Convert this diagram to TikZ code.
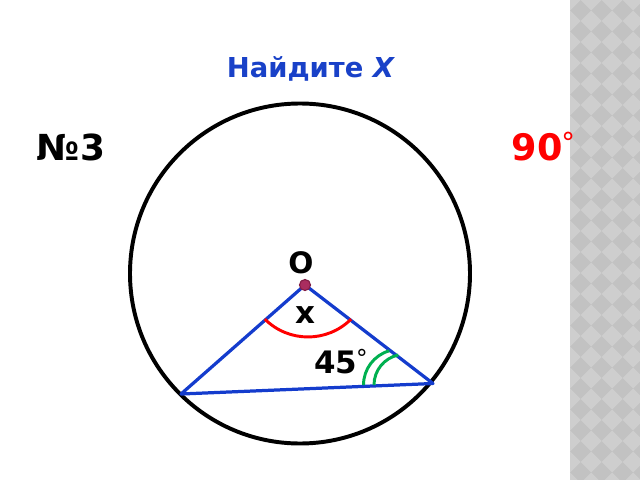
\documentclass[tikz,border=0pt]{standalone}
\usepackage{fontspec}
\setmainfont{DejaVu Sans}

\definecolor{titleblue}{RGB}{25,65,200}
\definecolor{sideblue}{RGB}{20,60,205}
\definecolor{arcgreen}{RGB}{0,176,80}
\definecolor{dotfill}{RGB}{170,45,95}
\definecolor{dotline}{RGB}{130,30,70}
\definecolor{stripdark}{RGB}{194,194,194}
\definecolor{striplight}{RGB}{206,206,206}

\newcommand{\dgsign}{\kern-0.04em\raisebox{0.2em}{\mdseries\scalebox{0.75}{°}}}

\tikzset{
	lbl/.style={inner sep=0pt,anchor=base,font=\bfseries\fontsize{#1}{#1}\selectfont},
	side/.style={line width=2.3pt,sideblue,line join=round},
	mark arc/.style={line width=2.1pt}
}

\begin{document}
\begin{tikzpicture}[x=0.025cm,y=-0.025cm]
	
	\useasboundingbox (0,0) rectangle (640,480);
	
	\fill[stripdark](570,0) rectangle (640,480);
	\begin{scope}
	\clip (570,0) rectangle (640,480);
	\foreach \i in {0,...,4}
	\foreach \j in {0,...,23}
	\fill[striplight](570+\i*21,\j*21-10.5)--++(10.5,10.5)--++(-10.5,10.5)--++(-10.5,-10.5)--cycle;
	\end{scope}
	
	\node[lbl=19.5,titleblue] (title) at (311,77) {Найдите \textit{X}};
	\node[lbl=25.5] (num) at (71,160) {№3};
	\node[lbl=26,red] (ans) at (543.5,160) {90\dgsign};
	
	\coordinate (C) at (300,273.5);
	\draw[line width=2.8pt](C) circle [radius=170];
	
	\coordinate (O) at (305,285);
	\coordinate (A) at (181,394);
	\coordinate (B) at (433,383.5);
	
	\draw[side](O)--(A)--(B)--cycle;
	
	\draw[mark arc,red](351.1,319.1) arc[start angle=45,end angle=135,radius=61];
	\draw[mark arc,arcgreen](363.5,385) arc[start angle=180,end angle=254,radius=35.6];
	\draw[mark arc,arcgreen](374,385) arc[start angle=180,end angle=258,radius=30.7];
	
	\draw[fill=dotfill,draw=dotline,line width=0.8pt](O) circle [radius=5.5];
	
	\node[lbl=21] (lblO) at (301,273.3) {O};
	\node[lbl=22] (lblx) at (305,323) {x};
	\node[lbl=22] (lbl45) at (341,373) {45\dgsign};
	
\end{tikzpicture}
\end{document}
